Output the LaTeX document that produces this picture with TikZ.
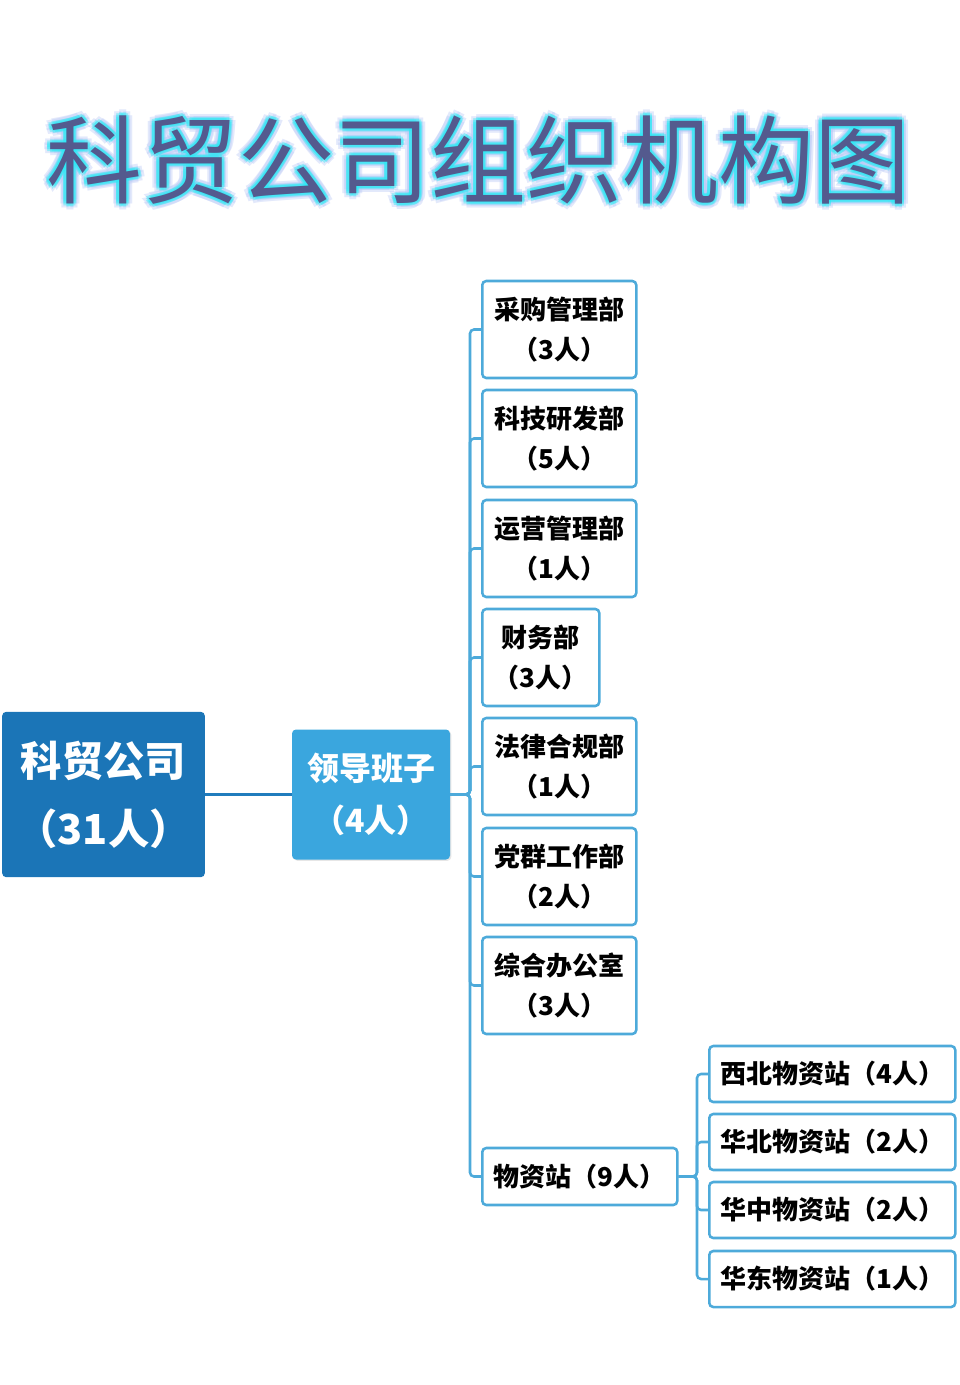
\documentclass[tikz,border=0pt]{standalone}
\usepackage{fontspec}
\setmainfont{Noto Sans CJK SC}
\usetikzlibrary{shadows}
\definecolor{rootblue}{RGB}{27,117,183}
\definecolor{leadblue}{RGB}{58,166,222}
\definecolor{linkblue}{RGB}{77,170,218}
\definecolor{titleink}{RGB}{84,90,142}
\definecolor{glowin}{RGB}{40,235,245}
\definecolor{glowout}{RGB}{185,200,245}
\tikzset{
  titletext/.style={inner sep=0pt,text=titleink,font=\fontsize{72pt}{80pt}\selectfont},% title
  titleglow/.style={titletext,text opacity=0.4},
  rootbox/.style={fill=rootblue,rounded corners=3pt,text=white,align=center,
    minimum width=152pt,minimum height=124pt,inner sep=0pt,
    font=\fontsize{31pt}{51pt}\selectfont\bfseries},
  leadbox/.style={fill=leadblue,rounded corners=3pt,text=white,align=center,
    minimum width=118.5pt,minimum height=97.5pt,inner sep=0pt,
    drop shadow={opacity=0.2,shadow xshift=1pt,shadow yshift=-1pt},
    font=\fontsize{24pt}{39pt}\selectfont\bfseries},
  deptbox/.style={draw=linkblue,line width=1.9pt,rounded corners=3pt,fill=white,
    align=center,anchor=west,inner sep=0pt,minimum height=72.75pt,
    font=\fontsize{19.5pt}{30pt}\selectfont\bfseries},
  subbox/.style={deptbox,minimum width=184.5pt,minimum height=42pt},
  link/.style={linkblue,line width=1.9pt,rounded corners=3pt},
  mainlink/.style={rootblue!85!leadblue,line width=2.2pt},
}

\begin{document}
\begin{tikzpicture}[x=0.75pt,y=-0.75pt]
  \useasboundingbox (0,0) rectangle (960,1385);
  % title, glow drawn as shifted copies
  \foreach \a in {0,45,...,315}
    \node[titleglow,text=glowout] at ([shift={(\a:6)}]478,160) {科贸公司组织机构图};
  \foreach \a in {0,45,...,315}
    \node[titleglow,text=glowin] at ([shift={(\a:3)}]478,160) {科贸公司组织机构图};
  \node[titletext] (title) at (478,160) {科贸公司组织机构图};

  \node[rootbox] (root) at (103.5,794.5) {科贸公司\\（31人）};
  \node[leadbox] (lead) at (371,794.5) {领导班子\\（4人）};
  \draw[mainlink] (root) -- (lead);

  % departments
  \foreach \i/\y/\w/\txt in {1/329.5/115.5/{采购管理部\\（3人）},
      2/438.5/115.5/{科技研发部\\（5人）},
      3/548.5/115.5/{运营管理部\\（1人）},
      4/657.5/87.75/{财务部\\（3人）},
      5/766.5/115.5/{法律合规部\\（1人）},
      6/876.5/115.5/{党群工作部\\（2人）},
      7/985.5/115.5/{综合办公室\\（3人）}}
    \node[deptbox,minimum width=\w pt] (d\i) at (481,\y) {\txt};
  \node[deptbox,minimum width=146.25pt,minimum height=42.75pt] (d8) at (481,1176.5) {物资站（9人）};
  \coordinate (hub) at (470,794.5);
  \foreach \i in {1,...,8}
    \draw[link] (lead.east) -- (hub) |- (d\i.west);

  % stations
  \foreach \j/\y/\txt in {1/1074/西北物资站（4人）,2/1142/华北物资站（2人）,
      3/1210/华中物资站（2人）,4/1279/华东物资站（1人）}
    \node[subbox] (s\j) at (708,\y) {\txt};
  \coordinate (hub2) at (697,1176.5);
  \foreach \j in {1,...,4}
    \draw[link] (d8.east) -- (hub2) |- (s\j.west);
\end{tikzpicture}
\end{document}
